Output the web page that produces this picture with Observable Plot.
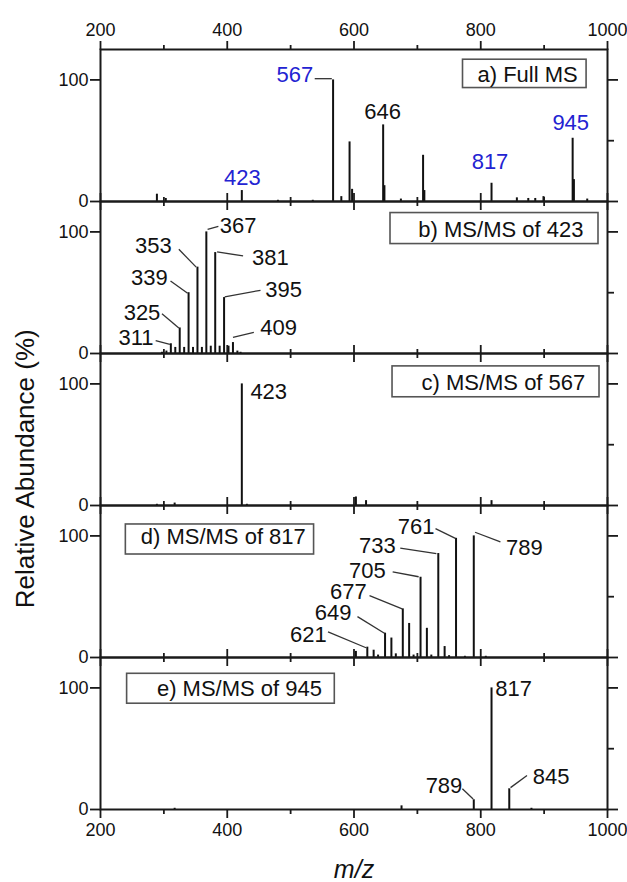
<!DOCTYPE html>
<html><head><meta charset="utf-8">
<script src="https://cdn.jsdelivr.net/npm/d3@7"></script>
<script src="https://cdn.jsdelivr.net/npm/@observablehq/plot@0.6"></script>
<style>body{margin:0;background:#fff;} #chart svg{display:block;}</style>
</head><body><div id="chart"></div>
<script>
// ---------- data ----------
const panelKeys = ["a", "b", "c", "d", "e"];
const panelTitles = ["a) Full MS", "b) MS/MS of 423", "c) MS/MS of 567", "d) MS/MS of 817", "e) MS/MS of 945"];
const xTicksMajor = [200, 400, 600, 800, 1000];
const xTicksMinor = [300, 500, 700, 900];
const yTicksMajor = [0, 100];
const yTicksMinor = [50];

// a) Full MS
const mzA  = [289, 303, 423, 480, 535, 567, 580, 593, 597, 646, 648, 674, 709, 711, 817, 857, 875, 886, 899, 945, 947, 968];
const relA = [6, 2.5, 9, 1, 1, 100, 4, 49, 10, 63, 13, 2, 38, 9, 15, 3, 2.5, 2.5, 4, 52, 18, 2];
// b) MS/MS of 423
const mzB  = [297, 304, 311, 318, 325, 332, 339, 346, 353, 360, 367, 374, 381, 388, 395, 402, 409, 416, 421];
const relB = [1, 2, 8, 5, 21, 5, 50, 5, 71, 5, 100, 6, 83, 6, 46, 6, 9, 2, 1];
// c) MS/MS of 567
const mzC  = [289, 317, 423, 431, 603, 619, 817];
const relC = [1, 2, 100, 1, 7, 4, 4];
// d) MS/MS of 817
const mzD  = [603, 621, 631, 638, 649, 659, 666, 677, 687, 694, 705, 715, 722, 733, 743, 750, 761, 775, 789, 808];
const relD = [5, 8.5, 6, 2, 20, 16, 3, 40, 28, 2, 66, 24, 2, 85.5, 9, 1.5, 98, 1, 100, 1];
// e) MS/MS of 945
const mzE  = [317, 675, 789, 817, 845, 880];
const relE = [1, 3, 8, 100, 17, 1];

// peak labels: text, and whether highlighted (blue)
const labelsA = ["567", "646", "423", "817", "945"];
const blueA   = [true, false, true, true, true];
const labelsB = ["311", "325", "339", "353", "367", "381", "395", "409"];
const labelsC = ["423"];
const labelsD = ["621", "649", "677", "705", "733", "761", "789"];
const labelsE = ["817", "845", "789"];

// ---------- annotation placement (data units) ----------
const placeA = [[535.5, 103.7, "end"], [645, 74, "middle"], [424, 19, "middle"], [814.6, 32.3, "middle"], [942, 65, "middle"]];
const placeB = [[256, 12.5, "middle"], [265.5, 33.7, "middle"], [277, 62.4, "middle"], [283.6, 88.4, "middle"], [417, 104.8, "middle"], [468, 78.8, "middle"], [489, 52.3, "middle"], [481, 20.8, "middle"]];
const placeC = [[436.5, 93.7, "start"]];
const placeD = [[528, 18.6, "middle"], [567, 37, "middle"], [591, 53.6, "middle"], [621, 71.3, "middle"], [637, 91.5, "middle"], [698, 107, "middle"], [869, 90, "middle"]];
const placeE = [[823, 99, "start"], [911, 27, "middle"], [742, 19.6, "middle"]];

const leadersA = [[538, 101, 565, 101]];
const leadersB = [[287, 10.5, 309.5, 7.5], [297, 32.6, 323.6, 21], [310.5, 59.7, 337.5, 49.5], [323.6, 85.7, 351, 71], [369, 102, 386, 104.5], [384, 83.5, 425, 80.2], [396, 46.6, 452.5, 52], [409, 13.2, 442, 17.3]];
const leadersD = [[559, 21, 619, 8], [605.5, 33.6, 648, 20], [624.5, 50.8, 676, 40], [661, 70.5, 702, 66.4], [673, 90, 730, 85.5], [728.6, 106, 760, 98], [791, 103, 831, 95]];
const leadersE = [[847, 18, 873, 28], [771, 17, 788, 8.7]];

// legend boxes [x1, x2, y1, y2, textX, textY]
const boxPlace = [
  [772, 967, 93.3, 116.6, 953, 104],
  [657.6, 985.8, 90, 115.5, 962, 101.6],
  [660.8, 987.4, 89, 114.4, 965, 100.7],
  [240, 537, 84.7, 109.4, 524, 99],
  [242, 569.7, 87, 111.6, 549.5, 99.3]
];

// axis titles: [panel, text, x, y] in data units
const yTitle = [{panel: "d", t: "Relative Abundance (%)", x: 81.5, y: 40.5}];
const xTitle = [{panel: "e", t: "m/z", x: 600, y: -50}];

// ---------- build tables ----------
const spectra = [[mzA, relA], [mzB, relB], [mzC, relC], [mzD, relD], [mzE, relE]];
const peaks = spectra.flatMap(([mz, rel], i) => mz.map((m, j) => ({panel: panelKeys[i], mz: m, rel: rel[j]})));

const BLUE = "#2323d2", BLACK = "#111111";
const labelSets = [labelsA, labelsB, labelsC, labelsD, labelsE];
const placeSets = [placeA, placeB, placeC, placeD, placeE];
const labels = labelSets.flatMap((ls, i) => ls.map((t, j) => ({
  panel: panelKeys[i], text: t,
  x: placeSets[i][j][0], y: placeSets[i][j][1], anchor: placeSets[i][j][2],
  color: i === 0 && blueA[j] ? BLUE : BLACK
})));
const leaderSets = [leadersA, leadersB, [], leadersD, leadersE];
const leaders = leaderSets.flatMap((ls, i) => ls.map(([x1, y1, x2, y2]) => ({panel: panelKeys[i], x1, y1, x2, y2})));
const boxes = panelKeys.map((p, i) => ({panel: p, title: panelTitles[i],
  x1: boxPlace[i][0], x2: boxPlace[i][1], y1: boxPlace[i][2], y2: boxPlace[i][3], tx: boxPlace[i][4], ty: boxPlace[i][5]}));

const axisStyle = {stroke: "#1a1a1a", strokeWidth: 1.8, label: null, facetAnchor: null};
const fmt = d => String(d);

const chart = Plot.plot({
  width: 627, height: 882,
  marginLeft: 100, marginRight: 20, marginTop: 48, marginBottom: 72,
  style: {fontFamily: "'Liberation Sans', Arial, sans-serif", fontSize: "18px", color: "#111", background: "#fff", overflow: "visible"},
  x: {domain: [200, 1000]},
  y: {domain: [0, 125]},
  fy: {domain: panelKeys, padding: 0, axis: null},
  color: {type: "identity"},
  marks: [
    Plot.ruleX(peaks, {x: "mz", y1: 0, y2: "rel", fy: "panel", stroke: BLACK, strokeWidth: 2}),
    Plot.link(leaders, {x1: "x1", y1: "y1", x2: "x2", y2: "y2", fy: "panel", stroke: "#333", strokeWidth: 1.3}),
    Plot.text(labels.filter(d => d.anchor === "middle"), {x: "x", y: "y", text: "text", fy: "panel", fill: "color", fontSize: 22, textAnchor: "middle"}),
    Plot.text(labels.filter(d => d.anchor === "end"), {x: "x", y: "y", text: "text", fy: "panel", fill: "color", fontSize: 22, textAnchor: "end"}),
    Plot.text(labels.filter(d => d.anchor === "start"), {x: "x", y: "y", text: "text", fy: "panel", fill: "color", fontSize: 22, textAnchor: "start"}),
    Plot.rect(boxes, {x1: "x1", x2: "x2", y1: "y1", y2: "y2", fy: "panel", fill: "white", stroke: "#555", strokeWidth: 1.6}),
    Plot.text(boxes, {x: "tx", y: "ty", text: "title", fy: "panel", fontSize: 22, textAnchor: "end", fill: BLACK}),
    Plot.frame({stroke: "#1a1a1a", strokeWidth: 2}),
    // x ticks on every panel border
    Plot.axisX({...axisStyle, anchor: "bottom", ticks: xTicksMajor, tickSize: 9, fill: "none"}),
    Plot.axisX({...axisStyle, anchor: "bottom", ticks: xTicksMinor, tickSize: 5, fill: "none"}),
    Plot.axisX({...axisStyle, anchor: "top", ticks: xTicksMajor, tickSize: 9, fill: "none"}),
    Plot.axisX({...axisStyle, anchor: "top", ticks: xTicksMinor, tickSize: 5, fill: "none"}),
    // x tick labels top and bottom
    Plot.axisX({anchor: "top", ticks: xTicksMajor, tickFormat: fmt, tickSize: 0, tickPadding: 14, fontSize: 18, label: null, facetAnchor: "top"}),
    Plot.axisX({anchor: "bottom", ticks: xTicksMajor, tickFormat: fmt, tickSize: 0, tickPadding: 14, fontSize: 18, label: null, facetAnchor: "bottom"}),
    // y ticks
    Plot.axisY({...axisStyle, anchor: "left", ticks: yTicksMajor, tickFormat: fmt, tickSize: 10, tickPadding: 2, fontSize: 18, fill: "#111"}),
    Plot.axisY({...axisStyle, anchor: "right", ticks: yTicksMajor, tickSize: 10, fill: "none"}),
    Plot.axisY({...axisStyle, anchor: "right", ticks: yTicksMinor, tickSize: 6, fill: "none"}),
    // axis titles
    Plot.text(yTitle, {fy: "panel", x: "x", y: "y", text: "t", rotate: -90, textAnchor: "start", fontSize: 26, fill: BLACK, ariaLabel: "y-title"}),
    Plot.text(xTitle, {fy: "panel", x: "x", y: "y", text: "t", fontSize: 25, fontStyle: "italic", fill: BLACK})
  ]
});
chart.querySelectorAll('g[aria-label="y-title"] text').forEach(t => {
  t.setAttribute("textLength", "345");
  t.setAttribute("lengthAdjust", "spacing");
});
document.getElementById("chart").appendChild(chart);
</script>
</body></html>
